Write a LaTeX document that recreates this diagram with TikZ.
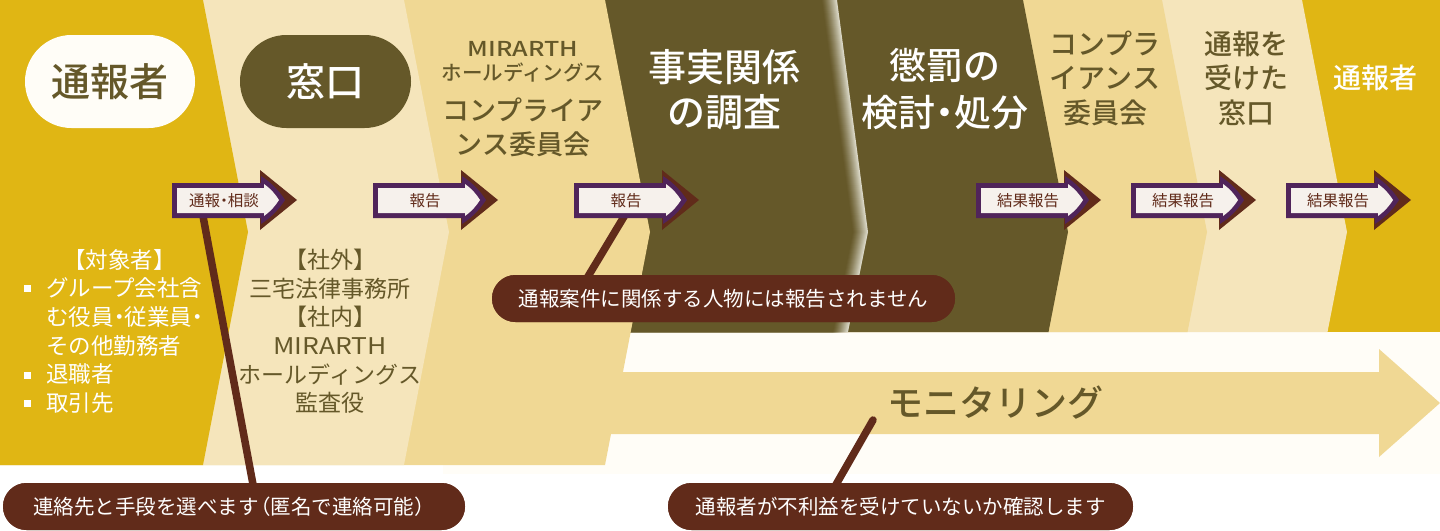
\documentclass[tikz,border=0pt]{standalone}
\usepackage{fontspec}
\setmainfont{Noto Sans CJK JP}[BoldFont={Noto Sans CJK JP Medium}]
\usetikzlibrary{calc}
\definecolor{cgold}{HTML}{E0B614}
\definecolor{ccream}{HTML}{F5E5BB}
\definecolor{csand}{HTML}{F0D894}
\definecolor{colive}{HTML}{655829}
\definecolor{cbrown}{HTML}{612B1A}
\definecolor{cpurple}{HTML}{50245A}
\definecolor{carrfill}{HTML}{F6F1EC}
\definecolor{cpanel}{HTML}{FFFDF7}
\definecolor{clight}{HTML}{DAD7C6}
\newcommand\fsz[2]{\fontsize{#1}{#2}\selectfont}
\newcommand\nd{\hspace{-.25em}・\hspace{-.25em}}
\newcommand\colshape[5]{\fill[#1] (0,0) -- (#2,0) -- (#3,232) -- (#4,#5) -- (0,#5) -- cycle;}
\newcommand\flowarrow[3]{%
  \fill[cbrown] (#2+88,170) -- (#2+125,200) -- (#2+88,230) -- cycle;
  \fill[cpurple] (#2,183) -- (#2+89,183) -- (#2+89,176)
     .. controls (#2+100,183) and (#2+108,192) .. (#2+113,200)
     .. controls (#2+108,208) and (#2+100,217) .. (#2+89,224)
     -- (#2+89,218) -- (#2,218) -- cycle;
  \fill[carrfill] (#2+5,188) -- (#2+92,188) -- (#2+92,184)
     .. controls (#2+99,189) and (#2+104,195) .. (#2+107,200)
     .. controls (#2+104,205) and (#2+99,211) .. (#2+92,216)
     -- (#2+92,213) -- (#2+5,213) -- cycle;
  \node[arrowlabel] (#1) at (#2+52,200.5) {#3};
}
\tikzset{
  arrowlabel/.style={text=cbrown, inner sep=0pt, font=\fsz{15.5}{18}},
  pill/.style={inner sep=0pt, minimum height=93pt, rounded corners=46.5pt, font=\fsz{39}{45}\bfseries},
  bubble/.style={fill=cbrown, text=white, inner sep=0pt, minimum height=47pt, rounded corners=23.5pt, font=\fsz{20.5}{24}},
  callout/.style={draw=cbrown, line width=7.5pt},
  coltitle/.style={inner sep=0pt, align=center},
}
\begin{document}
\begin{tikzpicture}[x=1pt,y=-1pt]
\useasboundingbox (0,0) rectangle (1440,530);
\fill[white] (0,0) rectangle (1440,530);
% pale panel and monitoring arrow
\fill[cpanel] (443,332) rectangle (1440,474);
\fill[csand] (600,372) -- (1379,372) -- (1379,349) -- (1440,403) -- (1379,457) -- (1379,434) -- (600,434) -- cycle;
% columns, right to left
\fill[cgold] (0,0) rectangle (1440,332);
\colshape{ccream}{1302}{1347}{1327.5}{332}
\colshape{csand}{1162}{1207}{1187.5}{332}
\colshape{colive}{1023}{1068}{1048.5}{332}
\foreach \k in {15,14,...,1}{
  \pgfmathsetmacro\pc{100*(\k/15)^1.3}
  \colshape{clight!\pc!colive}{822+\k}{853+\k}{833+\k}{332}
}
\colshape{colive}{822}{853}{833}{332}
\colshape{csand}{605}{650}{605}{465}
\colshape{ccream}{404}{449}{404}{465}
\colshape{cgold}{203}{248}{203}{465}
% titles
\node[pill, fill=cpanel, text=colive, minimum width=170pt] (rep) at (110,81.5) {通報者};
\node[pill, fill=colive, text=white, minimum width=171pt] (win) at (325.5,81.5) {窓口};
\node[coltitle, text=colive, font=\fsz{20.5}{24.5}\bfseries] (mir) at (523,62) {\scalebox{1.22}[1]{MIRARTH}\\ホールディングス};
\node[coltitle, text=colive, font=\fsz{27}{34}\bfseries] (cc) at (523,127.5) {コンプライア\\ンス委員会};
\node[coltitle, text=white, font=\fsz{38}{45}\bfseries] (fact) at (724,89.5) {事実関係\\の調査};
\node[coltitle, text=white, font=\fsz{37}{47}\bfseries] (pen) at (945,89) {懲罰の\\検討\nd 処分};
\node[coltitle, text=colive, font=\fsz{28}{34.5}\bfseries] (cc2) at (1105,78) {コンプラ\\イアンス\\委員会};
\node[coltitle, text=colive, font=\fsz{28}{34.5}\bfseries] (win2) at (1246,78) {通報を\\受けた\\窓口};
\node[coltitle, text=white, font=\fsz{28}{34.5}\bfseries] (rep2) at (1375,78) {通報者};
% body texts
\node[coltitle, text=white, font=\fsz{22.5}{28.7}] (tgthead) at (119.5,260) {【対象者】};
\node[inner sep=0pt, align=left, anchor=west, text=white, font=\fsz{22.5}{28.75}] (tgtlist) at (46,345.5) {グループ会社含\\む役員\nd 従業員\nd\\その他勤務者\\退職者\\取引先};
\fill[white] (24,284.5) rectangle (31,291.5);
\fill[white] (24,371.5) rectangle (31,378.5);
\fill[white] (24,399.5) rectangle (31,406.5);
\node[coltitle, text=colive, font=\fsz{23}{28.6}] (ext) at (330,331.5) {【社外】\\三宅法律事務所\\【社内】\\\scalebox{1.15}[1]{MIRARTH}\\ホールディングス\\監査役};
\node[coltitle, text=colive, font=\fsz{36}{40}\bfseries] (mon) at (995,403) {モニタリング};
% callout lines
\coordinate (k1) at (200,200);
\coordinate (k2) at (634,200);
\coordinate (k3) at (873,420);
\node[bubble, minimum width=462pt] (b1) at (234,506.5) {連絡先と手段を選べます\hspace{-.4em}（匿名で連絡可能）};
\node[bubble, minimum width=465pt] (b2) at (900.5,506.5) {通報者が不利益を受けていないか確認します};
\node[bubble, minimum width=463pt] (b3) at (723.5,298.5) {通報案件に関係する人物には報告されません};
\draw[callout] (k1) -- ($(b1.north)+(20,7)$);
\draw[callout] (k2) -- ($(b3.north)+(-143.5,15)$);
\draw[callout, line cap=round] (k3) -- ($(b2.north)+(-67.5,7)$);
% redraw bubbles on top of lines
\node[bubble, minimum width=462pt] (b1top) at (b1) {連絡先と手段を選べます\hspace{-.4em}（匿名で連絡可能）};
\node[bubble, minimum width=465pt] (b2top) at (b2) {通報者が不利益を受けていないか確認します};
\node[bubble, minimum width=463pt] (b3top) at (b3) {通報案件に関係する人物には報告されません};
% flow arrows
\flowarrow{a1}{172}{通報\nd 相談}
\flowarrow{a2}{373}{報告}
\flowarrow{a3}{574}{報告}
\flowarrow{a4}{976}{結果報告}
\flowarrow{a5}{1131}{結果報告}
\flowarrow{a6}{1286}{結果報告}
\end{tikzpicture}
\end{document}
